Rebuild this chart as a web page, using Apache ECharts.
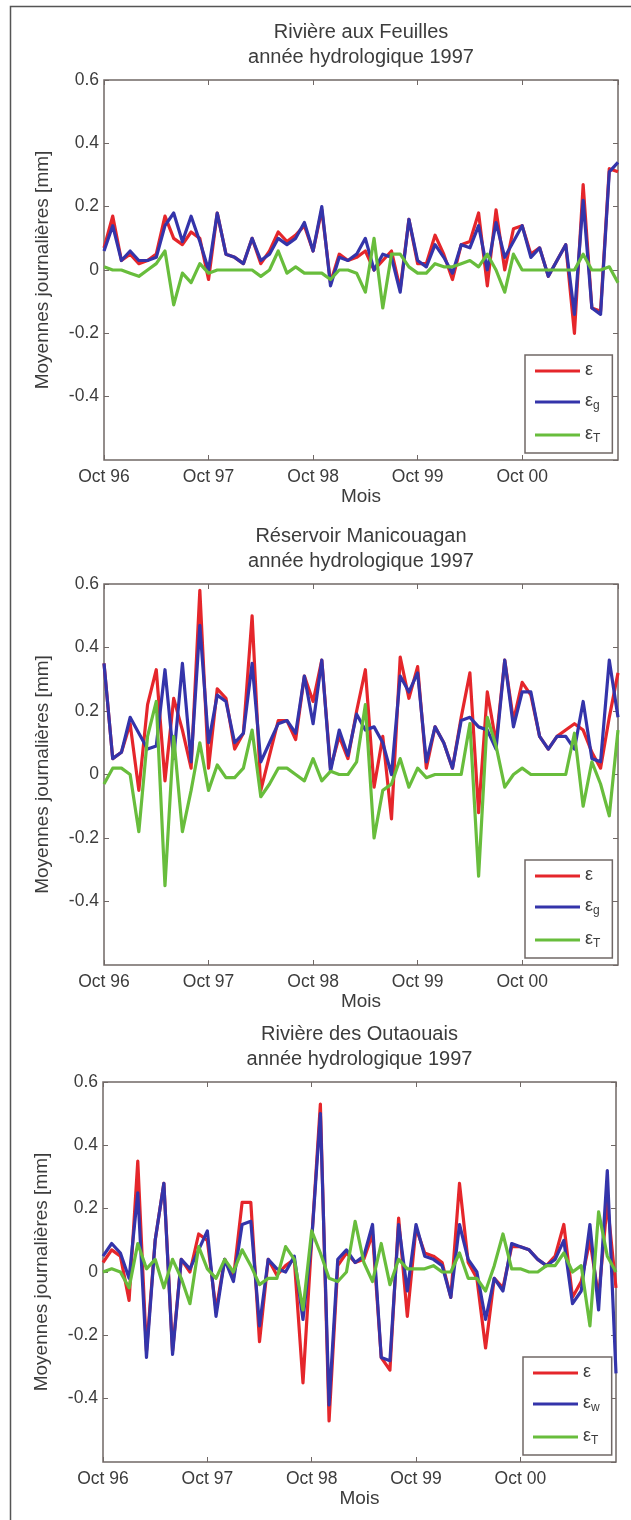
<!DOCTYPE html>
<html>
<head>
<meta charset="utf-8">
<title>Moyennes journalières</title>
<script src="https://cdn.jsdelivr.net/npm/echarts@6/dist/echarts.min.js"></script>
<style>
  html, body { margin: 0; padding: 0; background: #fff; }
  #chart { width: 631px; height: 1520px; }
</style>
</head>
<body>
<div id="chart"></div>
<script>
// x = month index from Oct 96 (0) to Sep 01 (59)
var tickLabels = ['Oct 96', 'Oct 97', 'Oct 98', 'Oct 99', 'Oct 00'];
var panelTitles = [
    ['Rivière aux Feuilles', 'année hydrologique 1997'],
    ['Réservoir Manicouagan', 'année hydrologique 1997'],
    ['Rivière des Outaouais', 'année hydrologique 1997']
];
var legendLabels = [
    [['ε', ''], ['ε', 'g'], ['ε', 'T']],
    [['ε', ''], ['ε', 'g'], ['ε', 'T']],
    [['ε', ''], ['ε', 'w'], ['ε', 'T']]
];

// Rivière aux Feuilles
var feuillesEps = [0.07, 0.17, 0.03, 0.05, 0.02, 0.03, 0.05, 0.17, 0.10, 0.08,
    0.12, 0.10, -0.03, 0.18, 0.05, 0.04, 0.02, 0.10, 0.02, 0.06,
    0.12, 0.09, 0.11, 0.14, 0.06, 0.19, -0.04, 0.05, 0.03, 0.04,
    0.06, 0.00, 0.03, 0.06, -0.06, 0.16, 0.02, 0.02, 0.11, 0.05,
    -0.03, 0.08, 0.09, 0.18, -0.05, 0.19, 0.00, 0.13, 0.14, 0.05,
    0.07, -0.02, 0.03, 0.08, -0.20, 0.27, -0.12, -0.13, 0.32, 0.31];
var feuillesEpsG = [0.06, 0.14, 0.03, 0.06, 0.03, 0.03, 0.04, 0.14, 0.18, 0.09,
    0.17, 0.09, 0.00, 0.18, 0.05, 0.04, 0.02, 0.10, 0.03, 0.05,
    0.10, 0.08, 0.10, 0.15, 0.06, 0.20, -0.05, 0.04, 0.03, 0.05,
    0.10, 0.00, 0.05, 0.04, -0.07, 0.16, 0.03, 0.01, 0.08, 0.04,
    -0.01, 0.08, 0.07, 0.14, 0.00, 0.15, 0.04, 0.09, 0.14, 0.04,
    0.07, -0.02, 0.03, 0.08, -0.14, 0.22, -0.12, -0.14, 0.31, 0.34];
var feuillesEpsT = [0.01, 0.00, 0.00, -0.01, -0.02, 0.00, 0.02, 0.06, -0.11, -0.01,
    -0.04, 0.02, -0.01, 0.00, 0.00, 0.00, 0.00, 0.00, -0.02, 0.00,
    0.06, -0.01, 0.01, -0.01, -0.01, -0.01, -0.03, 0.00, 0.00, -0.01,
    -0.07, 0.10, -0.12, 0.05, 0.05, 0.01, -0.01, -0.01, 0.02, 0.01,
    0.01, 0.02, 0.03, 0.01, 0.05, 0.00, -0.07, 0.05, 0.00, 0.00,
    0.00, 0.00, 0.00, 0.00, 0.00, 0.05, 0.00, 0.00, 0.01, -0.04];

// Réservoir Manicouagan
var manicEps = [0.35, 0.05, 0.07, 0.16, -0.05, 0.22, 0.33, -0.02, 0.24, 0.14,
    0.02, 0.58, 0.02, 0.27, 0.24, 0.08, 0.13, 0.50, -0.05, 0.06,
    0.17, 0.17, 0.11, 0.31, 0.23, 0.36, 0.02, 0.12, 0.05, 0.20,
    0.33, -0.04, 0.12, -0.14, 0.37, 0.24, 0.34, 0.02, 0.15, 0.10,
    0.02, 0.18, 0.32, -0.12, 0.26, 0.10, 0.36, 0.17, 0.29, 0.25,
    0.12, 0.08, 0.12, 0.14, 0.16, 0.14, 0.07, 0.02, 0.18, 0.32];
var manicEpsG = [0.35, 0.05, 0.07, 0.18, 0.13, 0.08, 0.09, 0.33, 0.05, 0.35,
    0.04, 0.47, 0.10, 0.25, 0.23, 0.10, 0.13, 0.35, 0.04, 0.10,
    0.16, 0.17, 0.13, 0.31, 0.16, 0.36, 0.01, 0.14, 0.06, 0.19,
    0.14, 0.15, 0.10, 0.00, 0.31, 0.26, 0.32, 0.04, 0.15, 0.10,
    0.02, 0.17, 0.18, 0.15, 0.14, 0.08, 0.36, 0.15, 0.26, 0.26,
    0.12, 0.08, 0.12, 0.12, 0.08, 0.23, 0.05, 0.04, 0.36, 0.18];
var manicEpsT = [-0.03, 0.02, 0.02, 0.00, -0.18, 0.12, 0.23, -0.35, 0.12, -0.18,
    -0.05, 0.10, -0.05, 0.03, -0.01, -0.01, 0.02, 0.14, -0.07, -0.03,
    0.02, 0.02, 0.00, -0.02, 0.05, -0.02, 0.01, 0.00, 0.00, 0.04,
    0.22, -0.20, -0.05, -0.03, 0.05, -0.04, 0.02, -0.01, 0.00, 0.00,
    0.00, 0.00, 0.16, -0.32, 0.18, 0.09, -0.04, 0.00, 0.02, 0.00,
    0.00, 0.00, 0.00, 0.00, 0.13, -0.10, 0.04, -0.03, -0.13, 0.14];

// Rivière des Outaouais
var outaEps = [0.03, 0.07, 0.05, -0.09, 0.35, -0.25, 0.10, 0.28, -0.25, 0.04,
    0.00, 0.12, 0.10, -0.12, 0.04, -0.02, 0.22, 0.22, -0.22, 0.04,
    -0.01, 0.02, 0.04, -0.35, 0.10, 0.53, -0.47, 0.02, 0.06, 0.03,
    0.04, 0.12, -0.27, -0.31, 0.17, -0.14, 0.14, 0.06, 0.05, 0.03,
    -0.08, 0.28, 0.03, -0.02, -0.24, -0.02, -0.05, 0.08, 0.08, 0.07,
    0.04, 0.02, 0.05, 0.15, -0.08, -0.03, 0.10, -0.08, 0.22, -0.05];
var outaEpsW = [0.05, 0.09, 0.06, -0.02, 0.25, -0.27, 0.10, 0.28, -0.26, 0.04,
    0.01, 0.07, 0.13, -0.14, 0.04, -0.03, 0.15, 0.16, -0.17, 0.04,
    0.01, 0.00, 0.05, -0.15, 0.10, 0.50, -0.42, 0.04, 0.07, 0.03,
    0.05, 0.15, -0.27, -0.28, 0.15, -0.06, 0.15, 0.05, 0.04, 0.02,
    -0.08, 0.15, 0.04, 0.00, -0.15, -0.02, -0.06, 0.09, 0.08, 0.07,
    0.04, 0.02, 0.04, 0.10, -0.10, -0.06, 0.15, -0.12, 0.32, -0.32];
var outaEpsT = [0.00, 0.01, 0.00, -0.05, 0.09, 0.01, 0.04, -0.05, 0.04, -0.02,
    -0.10, 0.08, 0.01, -0.02, 0.04, 0.00, 0.07, 0.02, -0.04, -0.02,
    -0.02, 0.08, 0.04, -0.12, 0.13, 0.06, -0.02, -0.03, 0.00, 0.16,
    0.03, -0.03, 0.09, -0.04, 0.04, 0.01, 0.01, 0.01, 0.02, 0.00,
    0.00, 0.06, -0.02, -0.02, -0.06, 0.02, 0.12, 0.01, 0.01, 0.00,
    0.00, 0.02, 0.02, 0.06, 0.00, 0.02, -0.17, 0.19, 0.05, 0.00];

var panelData = [
    [feuillesEps, feuillesEpsG, feuillesEpsT],
    [manicEps, manicEpsG, manicEpsT],
    [outaEps, outaEpsW, outaEpsT]
];
var lineColors = ['#e5262b', '#3434aa', '#68bd3c'];

var grids = [
    { left: 104, top: 80, width: 514, height: 380 },
    { left: 104, top: 584, width: 514, height: 381 },
    { left: 103, top: 1082, width: 513, height: 380 }
];

var fontFamily = '"Liberation Sans", Arial, sans-serif';
var textColor = '#3c3c3c';
var frameColor = '#706866';

function toPairs(values) {
    return values.map(function(v, i) { return [i, v]; });
}

var option = {
    animation: false,
    backgroundColor: '#fff',
    textStyle: { fontFamily: fontFamily },
    grid: [],
    xAxis: [],
    yAxis: [],
    legend: [],
    series: [],
    graphic: []
};

// outer page frame (right and bottom edges fall outside the picture)
option.graphic.push({
    type: 'rect',
    shape: { x: 10.5, y: 6.5, width: 630, height: 1530 },
    style: { fill: 'none', stroke: '#555', lineWidth: 1.5 },
    silent: true
});

grids.forEach(function(g, p) {
    option.grid.push({
        left: g.left, top: g.top, width: g.width, height: g.height,
        show: true, borderColor: frameColor, borderWidth: 1.5
    });

    option.graphic.push({
        type: 'text', x: g.left + g.width / 2, y: g.top - 60,
        style: {
            text: panelTitles[p].join('\n'), fill: textColor,
            font: '20px ' + fontFamily, textAlign: 'center', lineHeight: 25
        }
    });

    var tick = { inside: true, length: 5, lineStyle: { color: frameColor, width: 1 } };
    var noLine = { show: false, onZero: false };
    option.xAxis.push({
        type: 'value', gridIndex: p, position: 'bottom',
        min: 0, max: 59, interval: 12,
        axisLine: noLine, splitLine: { show: false }, axisTick: tick,
        axisLabel: {
            showMaxLabel: false, margin: 8, fontSize: 17.5, color: textColor,
            formatter: function(v) { return v % 12 === 0 ? tickLabels[v / 12] : ''; }
        },
        name: 'Mois', nameLocation: 'middle', nameGap: 25,
        nameTextStyle: { fontSize: 19, color: textColor }
    });
    option.xAxis.push({
        type: 'value', gridIndex: p, position: 'top',
        min: 0, max: 59, interval: 12,
        axisLine: noLine, splitLine: { show: false }, axisTick: tick,
        axisLabel: { show: false }
    });
    option.yAxis.push({
        type: 'value', gridIndex: p, position: 'left',
        min: -0.6, max: 0.6, interval: 0.2,
        axisLine: noLine, splitLine: { show: false }, axisTick: tick,
        axisLabel: {
            showMinLabel: false, margin: 5, fontSize: 17.5, color: textColor,
            formatter: function(v) { return String(Math.round(v * 10) / 10); }
        },
        name: 'Moyennes journalières [mm]', nameLocation: 'middle', nameGap: 52,
        nameTextStyle: { fontSize: 19, color: textColor }
    });
    option.yAxis.push({
        type: 'value', gridIndex: p, position: 'right',
        min: -0.6, max: 0.6, interval: 0.2,
        axisLine: noLine, splitLine: { show: false }, axisTick: tick,
        axisLabel: { show: false }
    });

    var names = [];
    panelData[p].forEach(function(values, k) {
        var name = 'p' + p + 's' + k;
        names.push(name);
        option.series.push({
            name: name, type: 'line',
            xAxisIndex: 2 * p, yAxisIndex: 2 * p,
            data: toPairs(values),
            symbol: 'none',
            lineStyle: { color: lineColors[k], width: 3.2, join: 'round' },
            itemStyle: { color: lineColors[k] },
            z: 2 + k
        });
    });

    option.legend.push({
        data: names,
        orient: 'vertical',
        left: g.left + g.width - 93,
        top: g.top + g.height - 105,
        icon: 'rect',
        itemWidth: 45, itemHeight: 3, itemGap: 13,
        padding: [6, 12, 8, 10],
        backgroundColor: '#fff',
        borderColor: frameColor, borderWidth: 1.5,
        selectedMode: false,
        formatter: function(name) {
            var k = Number(name.charAt(3));
            var lab = legendLabels[p][k];
            return '{m|' + lab[0] + '}' + (lab[1] ? '{s|' + lab[1] + '}' : '');
        },
        textStyle: {
            color: textColor,
            rich: {
                m: { fontSize: 18, lineHeight: 20, verticalAlign: 'top', color: textColor },
                s: { fontSize: 12, lineHeight: 14, padding: [8, 0, 0, 0], verticalAlign: 'top', color: textColor }
            }
        }
    });
});

var chart = echarts.init(document.getElementById('chart'));
chart.setOption(option);
</script>
</body>
</html>
